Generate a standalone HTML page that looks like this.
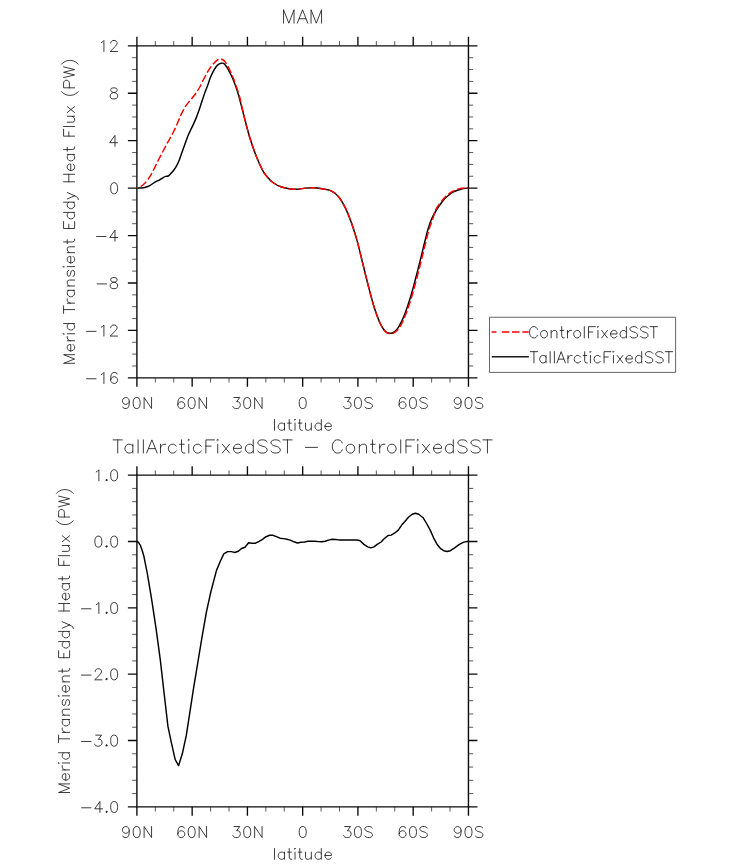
<!DOCTYPE html>
<html><head><meta charset="utf-8"><title>MAM</title>
<style>html,body{margin:0;padding:0;background:#fff;font-family:"Liberation Sans",sans-serif}svg{display:block}</style>
</head><body>
<svg width="733" height="866" viewBox="0 0 733 866">
<rect width="733" height="866" fill="#fff"/>
<path d="M136.9 45.83H468.45V377.84H136.9Z" stroke="#0a0a0a" stroke-width="1.4" fill="none"/>
<path d="M136.9 45.83V36.83M136.9 377.84V386.84M192.16 45.83V36.83M192.16 377.84V386.84M247.42 45.83V36.83M247.42 377.84V386.84M302.67 45.83V36.83M302.67 377.84V386.84M357.93 45.83V36.83M357.93 377.84V386.84M413.19 45.83V36.83M413.19 377.84V386.84M468.45 45.83V36.83M468.45 377.84V386.84M136.9 45.83H127.9M468.45 45.83H477.45M136.9 93.26H127.9M468.45 93.26H477.45M136.9 140.69H127.9M468.45 140.69H477.45M136.9 188.12H127.9M468.45 188.12H477.45M136.9 235.55H127.9M468.45 235.55H477.45M136.9 282.98H127.9M468.45 282.98H477.45M136.9 330.41H127.9M468.45 330.41H477.45M136.9 377.84H127.9M468.45 377.84H477.45" stroke="#0a0a0a" stroke-width="1.35" fill="none"/>
<path d="M155.32 45.83V41.13M155.32 377.84V382.54M173.74 45.83V41.13M173.74 377.84V382.54M210.58 45.83V41.13M210.58 377.84V382.54M229 45.83V41.13M229 377.84V382.54M265.84 45.83V41.13M265.84 377.84V382.54M284.26 45.83V41.13M284.26 377.84V382.54M321.09 45.83V41.13M321.09 377.84V382.54M339.51 45.83V41.13M339.51 377.84V382.54M376.35 45.83V41.13M376.35 377.84V382.54M394.77 45.83V41.13M394.77 377.84V382.54M431.61 45.83V41.13M431.61 377.84V382.54M450.03 45.83V41.13M450.03 377.84V382.54M136.9 57.69H132.2M468.45 57.69H473.15M136.9 69.55H132.2M468.45 69.55H473.15M136.9 81.4H132.2M468.45 81.4H473.15M136.9 105.12H132.2M468.45 105.12H473.15M136.9 116.97H132.2M468.45 116.97H473.15M136.9 128.83H132.2M468.45 128.83H473.15M136.9 152.55H132.2M468.45 152.55H473.15M136.9 164.41H132.2M468.45 164.41H473.15M136.9 176.26H132.2M468.45 176.26H473.15M136.9 199.98H132.2M468.45 199.98H473.15M136.9 211.83H132.2M468.45 211.83H473.15M136.9 223.69H132.2M468.45 223.69H473.15M136.9 247.41H132.2M468.45 247.41H473.15M136.9 259.26H132.2M468.45 259.26H473.15M136.9 271.12H132.2M468.45 271.12H473.15M136.9 294.84H132.2M468.45 294.84H473.15M136.9 306.69H132.2M468.45 306.69H473.15M136.9 318.55H132.2M468.45 318.55H473.15M136.9 342.27H132.2M468.45 342.27H473.15M136.9 354.12H132.2M468.45 354.12H473.15M136.9 365.98H132.2M468.45 365.98H473.15" stroke="#222" stroke-width="0.75" fill="none"/>
<path d="M136.9 475.15H468.45V806.85H136.9Z" stroke="#0a0a0a" stroke-width="1.4" fill="none"/>
<path d="M136.9 475.15V466.15M136.9 806.85V815.85M192.16 475.15V466.15M192.16 806.85V815.85M247.42 475.15V466.15M247.42 806.85V815.85M302.67 475.15V466.15M302.67 806.85V815.85M357.93 475.15V466.15M357.93 806.85V815.85M413.19 475.15V466.15M413.19 806.85V815.85M468.45 475.15V466.15M468.45 806.85V815.85M136.9 475.15H127.9M468.45 475.15H477.45M136.9 541.49H127.9M468.45 541.49H477.45M136.9 607.83H127.9M468.45 607.83H477.45M136.9 674.17H127.9M468.45 674.17H477.45M136.9 740.51H127.9M468.45 740.51H477.45M136.9 806.85H127.9M468.45 806.85H477.45" stroke="#0a0a0a" stroke-width="1.35" fill="none"/>
<path d="M155.32 475.15V470.45M155.32 806.85V811.55M173.74 475.15V470.45M173.74 806.85V811.55M210.58 475.15V470.45M210.58 806.85V811.55M229 475.15V470.45M229 806.85V811.55M265.84 475.15V470.45M265.84 806.85V811.55M284.26 475.15V470.45M284.26 806.85V811.55M321.09 475.15V470.45M321.09 806.85V811.55M339.51 475.15V470.45M339.51 806.85V811.55M376.35 475.15V470.45M376.35 806.85V811.55M394.77 475.15V470.45M394.77 806.85V811.55M431.61 475.15V470.45M431.61 806.85V811.55M450.03 475.15V470.45M450.03 806.85V811.55M136.9 488.42H132.2M468.45 488.42H473.15M136.9 501.69H132.2M468.45 501.69H473.15M136.9 514.95H132.2M468.45 514.95H473.15M136.9 528.22H132.2M468.45 528.22H473.15M136.9 554.76H132.2M468.45 554.76H473.15M136.9 568.03H132.2M468.45 568.03H473.15M136.9 581.29H132.2M468.45 581.29H473.15M136.9 594.56H132.2M468.45 594.56H473.15M136.9 621.1H132.2M468.45 621.1H473.15M136.9 634.37H132.2M468.45 634.37H473.15M136.9 647.63H132.2M468.45 647.63H473.15M136.9 660.9H132.2M468.45 660.9H473.15M136.9 687.44H132.2M468.45 687.44H473.15M136.9 700.71H132.2M468.45 700.71H473.15M136.9 713.97H132.2M468.45 713.97H473.15M136.9 727.24H132.2M468.45 727.24H473.15M136.9 753.78H132.2M468.45 753.78H473.15M136.9 767.05H132.2M468.45 767.05H473.15M136.9 780.31H132.2M468.45 780.31H473.15M136.9 793.58H132.2M468.45 793.58H473.15" stroke="#222" stroke-width="0.75" fill="none"/>
<path d="M136.9 187.95C137.67 187.95 140.05 188.06 141.5 187.95C142.95 187.84 144.23 187.68 145.6 187.3C146.97 186.93 148.2 186.52 149.7 185.7C151.2 184.88 152.95 183.38 154.6 182.4C156.25 181.42 158.1 180.65 159.6 179.8C161.1 178.95 162.58 177.87 163.6 177.3C164.62 176.73 164.93 176.62 165.7 176.4C166.47 176.18 167.45 176.37 168.2 176C168.95 175.63 169.32 175.12 170.2 174.2C171.08 173.28 172.42 171.93 173.5 170.5C174.58 169.07 175.75 167.3 176.7 165.6C177.65 163.9 178.45 162.13 179.2 160.3C179.95 158.47 180.45 156.72 181.2 154.6C181.95 152.48 182.87 149.93 183.7 147.6C184.53 145.27 185.38 142.82 186.2 140.6C187.02 138.38 187.65 136.5 188.6 134.3C189.55 132.1 190.67 130.05 191.9 127.4C193.13 124.75 194.77 121.4 196 118.4C197.23 115.4 198.25 112.43 199.3 109.4C200.35 106.37 201.33 103.1 202.3 100.2C203.27 97.3 204.15 94.62 205.1 92C206.05 89.38 207.13 86.87 208 84.5C208.87 82.13 209.4 80.03 210.3 77.8C211.2 75.57 212.43 72.95 213.4 71.1C214.37 69.25 215.25 67.83 216.1 66.7C216.95 65.57 217.63 64.88 218.5 64.3C219.37 63.72 220.45 63.35 221.3 63.2C222.15 63.05 222.82 62.93 223.6 63.4C224.38 63.87 225.2 64.93 226 66C226.8 67.07 227.53 68.27 228.4 69.8C229.27 71.33 230.28 73.27 231.2 75.2C232.12 77.13 233 79.12 233.9 81.4C234.8 83.68 235.7 86.18 236.6 88.9C237.5 91.62 237.92 92.58 239.3 97.7C240.68 102.82 243.23 113.22 244.9 119.6C246.57 125.98 247.75 130.8 249.3 136C250.85 141.2 252.57 146.3 254.2 150.8C255.83 155.3 257.45 159.32 259.1 163C260.75 166.68 262.37 170.17 264.1 172.9C265.83 175.63 267.78 177.63 269.5 179.4C271.22 181.17 272.5 182.27 274.4 183.5C276.3 184.73 278.45 185.93 280.9 186.8C283.35 187.67 286.37 188.3 289.1 188.7C291.83 189.1 294.57 189.3 297.3 189.2C300.03 189.1 302.77 188.33 305.5 188.1C308.23 187.87 310.97 187.7 313.7 187.8C316.43 187.9 319.18 188.27 321.9 188.7C324.62 189.13 327.82 189.63 330 190.4C332.18 191.17 333.35 191.95 335 193.3C336.65 194.65 338.12 195.95 339.9 198.5C341.68 201.05 343.77 204.52 345.7 208.6C347.63 212.68 349.58 217.58 351.5 223C353.42 228.42 355.3 234.27 357.2 241.1C359.1 247.93 361 256.35 362.9 264C364.8 271.65 366.68 279.67 368.6 287C370.52 294.33 372.48 301.97 374.4 308C376.32 314.03 378.35 319.38 380.1 323.2C381.85 327.02 383.3 329.23 384.9 330.9C386.5 332.57 388.12 333.05 389.7 333.2C391.28 333.35 392.82 332.98 394.4 331.8C395.98 330.62 397.45 329.12 399.2 326.1C400.95 323.08 402.98 318.63 404.9 313.7C406.82 308.77 408.78 302.87 410.7 296.5C412.62 290.13 414.65 282.18 416.4 275.5C418.15 268.82 419.73 262.32 421.2 256.4C422.67 250.48 423.98 244.82 425.2 240C426.42 235.18 427.4 231.08 428.5 227.5C429.6 223.92 430.43 221.5 431.8 218.5C433.17 215.5 434.8 212.5 436.7 209.5C438.6 206.5 441.37 202.75 443.2 200.5C445.03 198.25 445.98 197.43 447.7 196C449.42 194.57 451.32 193.03 453.5 191.9C455.68 190.77 458.31 189.87 460.8 189.2C463.29 188.53 467.18 188.12 468.45 187.9" stroke="#000" stroke-width="1.45" fill="none" stroke-linejoin="round"/>
<path d="M136.9 187.95C137.53 187.71 139.52 187.16 140.7 186.5C141.88 185.84 142.9 185.03 144 184C145.1 182.97 146.2 181.73 147.3 180.3C148.4 178.87 149.52 177.23 150.6 175.4C151.68 173.57 152.72 171.42 153.8 169.3C154.88 167.18 156 164.88 157.1 162.7C158.2 160.52 159.32 158.3 160.4 156.2C161.48 154.1 162.52 152.15 163.6 150.1C164.68 148.05 165.8 145.95 166.9 143.9C168 141.85 169.23 139.53 170.2 137.8C171.17 136.07 171.67 135.52 172.7 133.5C173.73 131.48 175.1 128.63 176.4 125.7C177.7 122.77 179.28 118.62 180.5 115.9C181.72 113.18 182.75 111.17 183.7 109.4C184.65 107.63 185.23 106.67 186.2 105.3C187.17 103.93 188.27 102.7 189.5 101.2C190.73 99.7 192.38 97.87 193.6 96.3C194.82 94.73 195.72 93.43 196.8 91.8C197.88 90.17 198.97 88.57 200.1 86.5C201.23 84.43 202.35 81.85 203.6 79.4C204.85 76.95 206.37 73.92 207.6 71.8C208.83 69.68 209.92 68.17 211 66.7C212.08 65.23 213.02 64.13 214.1 63C215.18 61.87 216.53 60.57 217.5 59.9C218.47 59.23 219.1 59.07 219.9 59C220.7 58.93 221.5 59.12 222.3 59.5C223.1 59.88 223.97 60.5 224.7 61.3C225.43 62.1 226.02 63.17 226.7 64.3C227.38 65.43 228.05 66.62 228.8 68.1C229.55 69.58 230.42 71.45 231.2 73.2C231.98 74.95 232.72 76.55 233.5 78.6C234.28 80.65 235.03 82.98 235.9 85.5C236.77 88.02 237.97 91.37 238.7 93.7C239.43 96.03 239.27 95.18 240.3 99.5C241.33 103.82 243.4 113.52 244.9 119.6C246.4 125.68 247.75 130.8 249.3 136C250.85 141.2 252.57 146.3 254.2 150.8C255.83 155.3 257.45 159.32 259.1 163C260.75 166.68 262.37 170.17 264.1 172.9C265.83 175.63 267.78 177.63 269.5 179.4C271.22 181.17 272.5 182.27 274.4 183.5C276.3 184.73 278.45 185.93 280.9 186.8C283.35 187.67 286.37 188.3 289.1 188.7C291.83 189.1 294.57 189.3 297.3 189.2C300.03 189.1 302.77 188.33 305.5 188.1C308.23 187.87 310.97 187.7 313.7 187.8C316.43 187.9 319.18 188.27 321.9 188.7C324.62 189.13 327.82 189.63 330 190.4C332.18 191.17 333.35 191.95 335 193.3C336.65 194.65 338.12 195.95 339.9 198.5C341.68 201.05 343.77 204.52 345.7 208.6C347.63 212.68 349.58 217.58 351.5 223C353.42 228.42 355.3 234.27 357.2 241.1C359.1 247.93 361 256.35 362.9 264C364.8 271.65 366.68 279.67 368.6 287C370.52 294.33 372.48 301.97 374.4 308C376.32 314.03 378.3 319.28 380.1 323.2C381.9 327.12 383.55 329.73 385.2 331.5C386.85 333.27 388.42 333.65 390 333.8C391.58 333.95 393 333.62 394.7 332.4C396.4 331.18 398.33 329.55 400.2 326.5C402.07 323.45 403.98 319.03 405.9 314.1C407.82 309.17 409.78 303.27 411.7 296.9C413.62 290.53 415.65 282.58 417.4 275.9C419.15 269.22 420.73 262.72 422.2 256.8C423.67 250.88 424.98 245.22 426.2 240.4C427.42 235.58 428.4 231.48 429.5 227.9C430.6 224.32 431.68 222.08 432.8 218.9C433.92 215.72 434.55 211.98 436.2 208.8C437.85 205.62 440.87 202.05 442.7 199.8C444.53 197.55 445.48 196.73 447.2 195.3C448.92 193.87 450.82 192.33 453 191.2C455.18 190.07 457.73 189.05 460.3 188.5C462.88 187.95 467.09 188 468.45 187.9" stroke="#f00" stroke-width="1.45" fill="none" stroke-dasharray="7.5 2.7" stroke-dashoffset="6.2" stroke-linejoin="round"/>
<path d="M136.9 541.5L138.3 542.2L140.4 545.4L142.3 550.8L144 556.8L147.3 573.3L151.6 599.2L156 628.1L160.3 659.8L164.6 697.5L167.9 726.2L171.3 742.3L175.2 759.6L178.6 765.6L182.3 753.8L186.3 735.4L190.4 708.8L193.5 688.7L197.8 662.7L202.1 636.7L206.4 612.2L210.8 592L216.5 570.4L220.2 561.5L223.8 553.9L227.6 551.6L231.4 551.6L234.8 552.5L238.3 551.2L241.5 548.5L245 547.2L248.6 542.8L252 543.2L255.5 543.2L259.1 541.4L262.5 539.3L266 536.7L269.6 535.3L273 535.3L276.5 536.7L279.9 538.2L283.5 538.6L287 539.2L290.2 540.1L294 541.8L297.5 543L300.9 542.2L304.5 542L308 541.3L311.2 541.1L315 541.3L318.5 541.6L321.7 541.8L325.2 541.3L328.4 540.1L332.2 539.2L335.7 539.5L339.1 539.9L343.7 539.9L347.6 539.9L353.4 540L357.2 539.9L360.1 540.8L363.9 544.4L367.7 546.9L370.9 547.9L374 546.9L377.2 544.4L381.1 542L384.9 538.1L388.1 535.5L391.2 535.1L394.4 533.2L398.3 530.1L401.5 525.3L404.9 521.5L408.4 517.3L412.2 514.3L415.4 513.3L418.7 514.3L423.1 517.7L426.9 524L430.2 530.1L433.6 537.8L437 544.2L440.3 548.3L443.7 550.7L447 551.5L450.4 550.7L454.6 547.9L459.4 544.4L463.8 542.1L468.5 541.3" stroke="#000" stroke-width="1.45" fill="none" stroke-linejoin="round"/>
<path stroke="#1a1a1a" stroke-width="0.85" fill="none" stroke-linecap="round" stroke-linejoin="round" d="M283.56 23.2L283.56 9.76L288.8 23.2L294.04 9.76L294.04 23.2M297.31 23.2L302.55 9.76L307.79 23.2M299.27 18.72L305.82 18.72M311.06 23.2L311.06 9.76L316.31 23.2L321.55 9.76L321.55 23.2"/>
<path stroke="#1a1a1a" stroke-width="0.85" fill="none" stroke-linecap="round" stroke-linejoin="round" d="M113.1 439.88L122.31 439.88M117.71 439.88L117.71 453M132.84 446.12L131.52 444.88L130.21 444.25L128.23 444.25L126.92 444.88L125.6 446.12L124.94 448L124.94 449.25L125.6 451.12L126.92 452.38L128.23 453L130.21 453L131.52 452.38L132.84 451.12M132.84 444.25L132.84 453M138.1 439.88L138.1 453M143.37 439.88L143.37 453M146.66 453L151.92 439.88L157.19 453M148.63 448.62L155.21 448.62M160.48 444.25L160.48 453M160.48 448L161.13 446.12L162.45 444.88L163.77 444.25L165.74 444.25M176.27 446.12L174.95 444.88L173.64 444.25L171.66 444.25L170.35 444.88L169.03 446.12L168.37 448L168.37 449.25L169.03 451.12L170.35 452.38L171.66 453L173.64 453L174.95 452.38L176.27 451.12M179.56 444.25L184.16 444.25M181.53 439.88L181.53 450.5L182.19 452.38L183.51 453L184.82 453M188.77 444.25L188.77 453M188.11 439.88L188.77 439.25L189.43 439.88L188.77 440.5ZM201.27 446.12L199.96 444.88L198.64 444.25L196.67 444.25L195.35 444.88L194.03 446.12L193.38 448L193.38 449.25L194.03 451.12L195.35 452.38L196.67 453L198.64 453L199.96 452.38L201.27 451.12M205.88 453L205.88 439.88L214.43 439.88M205.88 446.12L211.14 446.12M217.72 444.25L217.72 453M217.06 439.88L217.72 439.25L218.38 439.88L217.72 440.5ZM222.33 444.25L229.57 453M222.33 453L229.57 444.25M233.51 448L233.51 449.25L234.17 451.12L235.49 452.38L236.8 453L238.78 453L240.09 452.38L241.41 451.12M233.51 448L234.17 446.12L235.49 444.88L236.8 444.25L238.78 444.25L240.09 444.88L240.75 445.5L241.41 446.75L241.41 448ZM253.25 446.12L251.94 444.88L250.62 444.25L248.65 444.25L247.33 444.88L246.02 446.12L245.36 448L245.36 449.25L246.02 451.12L247.33 452.38L248.65 453L250.62 453L251.94 452.38L253.25 451.12M253.25 439.88L253.25 453M257.86 451.12L259.18 452.38L261.15 453L263.78 453L265.76 452.38L267.07 451.12L267.07 449.25L266.41 448L265.76 447.38L264.44 446.75L260.49 445.5L259.18 444.88L258.52 444.25L257.86 443L257.86 441.75L259.18 440.5L261.15 439.88L263.78 439.88L265.76 440.5L267.07 441.75M271.02 451.12L272.34 452.38L274.31 453L276.94 453L278.92 452.38L280.23 451.12L280.23 449.25L279.57 448L278.92 447.38L277.6 446.75L273.65 445.5L272.34 444.88L271.68 444.25L271.02 443L271.02 441.75L272.34 440.5L274.31 439.88L276.94 439.88L278.92 440.5L280.23 441.75M282.86 439.88L292.08 439.88M287.47 439.88L287.47 453"/>
<path stroke="#1a1a1a" stroke-width="0.85" fill="none" stroke-linecap="round" stroke-linejoin="round" d="M305.4 447.38L317.5 447.38"/>
<path stroke="#1a1a1a" stroke-width="0.85" fill="none" stroke-linecap="round" stroke-linejoin="round" d="M342.25 443L341.6 441.75L340.28 440.5L338.97 439.88L336.34 439.88L335.03 440.5L333.71 441.75L333.06 443L332.4 444.88L332.4 448L333.06 449.88L333.71 451.12L335.03 452.38L336.34 453L338.97 453L340.28 452.38L341.6 451.12L342.25 449.88M346.2 448L346.2 449.25L346.85 451.12L348.17 452.38L349.48 453L351.45 453L352.77 452.38L354.08 451.12L354.74 449.25L354.74 448L354.08 446.12L352.77 444.88L351.45 444.25L349.48 444.25L348.17 444.88L346.85 446.12ZM359.34 444.25L359.34 453M359.34 446.75L361.31 444.88L362.62 444.25L364.59 444.25L365.91 444.88L366.56 446.75L366.56 453M370.51 444.25L375.1 444.25M372.48 439.88L372.48 450.5L373.13 452.38L374.45 453L375.76 453M379.7 444.25L379.7 453M379.7 448L380.36 446.12L381.67 444.88L382.99 444.25L384.96 444.25M387.59 448L387.59 449.25L388.25 451.12L389.56 452.38L390.87 453L392.84 453L394.16 452.38L395.47 451.12L396.13 449.25L396.13 448L395.47 446.12L394.16 444.88L392.84 444.25L390.87 444.25L389.56 444.88L388.25 446.12ZM400.73 439.88L400.73 453M405.98 453L405.98 439.88L414.52 439.88M405.98 446.12L411.24 446.12M417.81 444.25L417.81 453M417.15 439.88L417.81 439.25L418.47 439.88L417.81 440.5ZM422.41 444.25L429.64 453M422.41 453L429.64 444.25M433.58 448L433.58 449.25L434.24 451.12L435.55 452.38L436.86 453L438.83 453L440.15 452.38L441.46 451.12M433.58 448L434.24 446.12L435.55 444.88L436.86 444.25L438.83 444.25L440.15 444.88L440.8 445.5L441.46 446.75L441.46 448ZM453.29 446.12L451.97 444.88L450.66 444.25L448.69 444.25L447.38 444.88L446.06 446.12L445.4 448L445.4 449.25L446.06 451.12L447.38 452.38L448.69 453L450.66 453L451.97 452.38L453.29 451.12M453.29 439.88L453.29 453M457.89 451.12L459.2 452.38L461.17 453L463.8 453L465.77 452.38L467.08 451.12L467.08 449.25L466.43 448L465.77 447.38L464.46 446.75L460.51 445.5L459.2 444.88L458.54 444.25L457.89 443L457.89 441.75L459.2 440.5L461.17 439.88L463.8 439.88L465.77 440.5L467.08 441.75M471.03 451.12L472.34 452.38L474.31 453L476.94 453L478.91 452.38L480.22 451.12L480.22 449.25L479.57 448L478.91 447.38L477.6 446.75L473.65 445.5L472.34 444.88L471.68 444.25L471.03 443L471.03 441.75L472.34 440.5L474.31 439.88L476.94 439.88L478.91 440.5L480.22 441.75M482.85 439.88L492.05 439.88M487.45 439.88L487.45 453"/>
<path stroke="#1a1a1a" stroke-width="0.85" fill="none" stroke-linecap="round" stroke-linejoin="round" d="M101.29 42.57L102.35 42.04L103.92 40.47L103.92 51.49M117.6 51.49L110.24 51.49L115.5 46.24L116.55 44.67L117.07 43.62L117.07 42.57L116.55 41.52L116.02 40.99L114.97 40.47L112.87 40.47L111.81 40.99L111.29 41.52L110.76 42.57L110.76 43.09"/>
<path stroke="#1a1a1a" stroke-width="0.85" fill="none" stroke-linecap="round" stroke-linejoin="round" d="M110.24 95.25L110.24 96.82L110.76 97.87L111.29 98.4L112.87 98.92L114.97 98.92L116.55 98.4L117.07 97.87L117.6 96.82L117.6 95.25L117.07 94.2L116.02 93.15L114.44 92.62L112.34 92.1L111.29 91.57L110.76 90.52L110.76 89.47L111.29 88.42L112.87 87.9L114.97 87.9L116.55 88.42L117.07 89.47L117.07 90.52L116.55 91.57L115.5 92.1L113.39 92.62L111.81 93.15L110.76 94.2Z"/>
<path stroke="#1a1a1a" stroke-width="0.85" fill="none" stroke-linecap="round" stroke-linejoin="round" d="M117.6 142.68L109.71 142.68L114.97 135.33L114.97 146.35"/>
<path stroke="#1a1a1a" stroke-width="0.85" fill="none" stroke-linecap="round" stroke-linejoin="round" d="M110.68 187.48L110.68 189.06L111.17 191.68L112.16 193.26L113.64 193.78L114.63 193.78L116.12 193.26L117.11 191.68L117.6 189.06L117.6 187.48L117.11 184.86L116.12 183.28L114.63 182.76L113.64 182.76L112.16 183.28L111.17 184.86Z"/>
<path stroke="#1a1a1a" stroke-width="0.85" fill="none" stroke-linecap="round" stroke-linejoin="round" d="M96.56 236.49L106.03 236.49M117.6 237.54L109.71 237.54L114.97 230.19L114.97 241.21"/>
<path stroke="#1a1a1a" stroke-width="0.85" fill="none" stroke-linecap="round" stroke-linejoin="round" d="M97.09 283.92L106.55 283.92M110.24 284.97L110.24 286.54L110.76 287.59L111.29 288.12L112.87 288.64L114.97 288.64L116.55 288.12L117.07 287.59L117.6 286.54L117.6 284.97L117.07 283.92L116.02 282.87L114.44 282.34L112.34 281.82L111.29 281.29L110.76 280.24L110.76 279.19L111.29 278.14L112.87 277.62L114.97 277.62L116.55 278.14L117.07 279.19L117.07 280.24L116.55 281.29L115.5 281.82L113.39 282.34L111.81 282.87L110.76 283.92Z"/>
<path stroke="#1a1a1a" stroke-width="0.85" fill="none" stroke-linecap="round" stroke-linejoin="round" d="M86.57 331.35L96.03 331.35M101.29 327.15L102.35 326.62L103.92 325.05L103.92 336.07M117.6 336.07L110.24 336.07L115.5 330.82L116.55 329.25L117.07 328.2L117.07 327.15L116.55 326.1L116.02 325.57L114.97 325.05L112.87 325.05L111.81 325.57L111.29 326.1L110.76 327.15L110.76 327.67"/>
<path stroke="#1a1a1a" stroke-width="0.85" fill="none" stroke-linecap="round" stroke-linejoin="round" d="M86.57 378.78L96.03 378.78M101.29 374.58L102.35 374.05L103.92 372.48L103.92 383.5M110.76 379.83L110.76 377.2L111.29 374.58L112.34 373L113.92 372.48L114.97 372.48L116.55 373L117.07 374.05M110.76 379.83L111.29 378.25L112.34 377.2L113.92 376.68L114.44 376.68L116.02 377.2L117.07 378.25L117.6 379.83L117.6 380.35L117.07 381.93L116.02 382.98L114.44 383.5L113.92 383.5L112.34 382.98L111.29 381.93Z"/>
<path stroke="#1a1a1a" stroke-width="0.85" fill="none" stroke-linecap="round" stroke-linejoin="round" d="M122.88 406.96L123.41 408.01L125 408.54L126.06 408.54L127.66 408.01L128.72 406.44L129.25 403.81L129.25 401.19M129.25 401.19L128.72 399.09L127.66 398.04L126.06 397.51L125.53 397.51L123.94 398.04L122.88 399.09L122.35 400.66L122.35 401.19L122.88 402.76L123.94 403.81L125.53 404.34L126.06 404.34L127.66 403.81L128.72 402.76ZM133.19 402.24L133.19 403.81L133.69 406.44L134.69 408.01L136.19 408.54L137.18 408.54L138.68 408.01L139.68 406.44L140.18 403.81L140.18 402.24L139.68 399.61L138.68 398.04L137.18 397.51L136.19 397.51L134.69 398.04L133.69 399.61ZM144.12 408.54L144.12 397.51L151.55 408.54L151.55 397.51"/>
<path stroke="#1a1a1a" stroke-width="0.85" fill="none" stroke-linecap="round" stroke-linejoin="round" d="M177.87 404.86L177.87 402.24L178.4 399.61L179.46 398.04L181.06 397.51L182.12 397.51L183.71 398.04L184.24 399.09M177.87 404.86L178.4 403.29L179.46 402.24L181.06 401.71L181.59 401.71L183.18 402.24L184.24 403.29L184.77 404.86L184.77 405.39L184.24 406.96L183.18 408.01L181.59 408.54L181.06 408.54L179.46 408.01L178.4 406.96ZM188.18 402.24L188.18 403.81L188.68 406.44L189.68 408.01L191.18 408.54L192.18 408.54L193.67 408.01L194.67 406.44L195.17 403.81L195.17 402.24L194.67 399.61L193.67 398.04L192.18 397.51L191.18 397.51L189.68 398.04L188.68 399.61ZM199.11 408.54L199.11 397.51L206.55 408.54L206.55 397.51"/>
<path stroke="#1a1a1a" stroke-width="0.85" fill="none" stroke-linecap="round" stroke-linejoin="round" d="M232.86 406.44L233.4 407.49L233.93 408.01L235.52 408.54L237.11 408.54L238.71 408.01L239.77 406.96L240.3 405.39L240.3 404.34L239.77 402.76L239.24 402.24L238.17 401.71L236.58 401.71L239.77 397.51L233.93 397.51M243.71 402.24L243.71 403.81L244.21 406.44L245.2 408.01L246.7 408.54L247.7 408.54L249.2 408.01L250.2 406.44L250.7 403.81L250.7 402.24L250.2 399.61L249.2 398.04L247.7 397.51L246.7 397.51L245.2 398.04L244.21 399.61ZM254.64 408.54L254.64 397.51L262.07 408.54L262.07 397.51"/>
<path stroke="#1a1a1a" stroke-width="0.85" fill="none" stroke-linecap="round" stroke-linejoin="round" d="M299.23 402.24L299.23 403.81L299.73 406.44L300.73 408.01L302.23 408.54L303.22 408.54L304.72 408.01L305.72 406.44L306.22 403.81L306.22 402.24L305.72 399.61L304.72 398.04L303.22 397.51L302.23 397.51L300.73 398.04L299.73 399.61Z"/>
<path stroke="#1a1a1a" stroke-width="0.85" fill="none" stroke-linecap="round" stroke-linejoin="round" d="M343.65 406.44L344.18 407.49L344.71 408.01L346.3 408.54L347.89 408.54L349.49 408.01L350.55 406.96L351.08 405.39L351.08 404.34L350.55 402.76L350.02 402.24L348.96 401.71L347.36 401.71L350.55 397.51L344.71 397.51M354.49 402.24L354.49 403.81L354.99 406.44L355.99 408.01L357.48 408.54L358.48 408.54L359.98 408.01L360.98 406.44L361.48 403.81L361.48 402.24L360.98 399.61L359.98 398.04L358.48 397.51L357.48 397.51L355.99 398.04L354.99 399.61ZM364.89 406.96L365.95 408.01L367.54 408.54L369.67 408.54L371.26 408.01L372.32 406.96L372.32 405.39L371.79 404.34L371.26 403.81L370.2 403.29L367.01 402.24L365.95 401.71L365.42 401.19L364.89 400.14L364.89 399.09L365.95 398.04L367.54 397.51L369.67 397.51L371.26 398.04L372.32 399.09"/>
<path stroke="#1a1a1a" stroke-width="0.85" fill="none" stroke-linecap="round" stroke-linejoin="round" d="M399.17 404.86L399.17 402.24L399.7 399.61L400.76 398.04L402.36 397.51L403.42 397.51L405.01 398.04L405.54 399.09M399.17 404.86L399.7 403.29L400.76 402.24L402.36 401.71L402.89 401.71L404.48 402.24L405.54 403.29L406.07 404.86L406.07 405.39L405.54 406.96L404.48 408.01L402.89 408.54L402.36 408.54L400.76 408.01L399.7 406.96ZM409.48 402.24L409.48 403.81L409.98 406.44L410.98 408.01L412.48 408.54L413.48 408.54L414.97 408.01L415.97 406.44L416.47 403.81L416.47 402.24L415.97 399.61L414.97 398.04L413.48 397.51L412.48 397.51L410.98 398.04L409.98 399.61ZM419.88 406.96L420.94 408.01L422.53 408.54L424.66 408.54L426.25 408.01L427.31 406.96L427.31 405.39L426.78 404.34L426.25 403.81L425.19 403.29L422 402.24L420.94 401.71L420.41 401.19L419.88 400.14L419.88 399.09L420.94 398.04L422.53 397.51L424.66 397.51L426.25 398.04L427.31 399.09"/>
<path stroke="#1a1a1a" stroke-width="0.85" fill="none" stroke-linecap="round" stroke-linejoin="round" d="M454.69 406.96L455.22 408.01L456.82 408.54L457.88 408.54L459.47 408.01L460.53 406.44L461.07 403.81L461.07 401.19M461.07 401.19L460.53 399.09L459.47 398.04L457.88 397.51L457.35 397.51L455.76 398.04L454.69 399.09L454.16 400.66L454.16 401.19L454.69 402.76L455.76 403.81L457.35 404.34L457.88 404.34L459.47 403.81L460.53 402.76ZM465.01 402.24L465.01 403.81L465.51 406.44L466.5 408.01L468 408.54L469 408.54L470.5 408.01L471.49 406.44L471.99 403.81L471.99 402.24L471.49 399.61L470.5 398.04L469 397.51L468 397.51L466.5 398.04L465.51 399.61ZM475.4 406.96L476.46 408.01L478.06 408.54L480.18 408.54L481.77 408.01L482.84 406.96L482.84 405.39L482.31 404.34L481.77 403.81L480.71 403.29L477.53 402.24L476.46 401.71L475.93 401.19L475.4 400.14L475.4 399.09L476.46 398.04L478.06 397.51L480.18 397.51L481.77 398.04L482.84 399.09"/>
<path stroke="#1a1a1a" stroke-width="0.85" fill="none" stroke-linecap="round" stroke-linejoin="round" d="M274.5 419.53L274.5 430.24M284.49 424.63L283.44 423.61L282.39 423.1L280.81 423.1L279.76 423.61L278.71 424.63L278.18 426.16L278.18 427.18L278.71 428.71L279.76 429.73L280.81 430.24L282.39 430.24L283.44 429.73L284.49 428.71M284.49 423.1L284.49 430.24M287.65 423.1L291.33 423.1M289.23 419.53L289.23 428.2L289.75 429.73L290.81 430.24L291.86 430.24M295.01 423.1L295.01 430.24M294.49 419.53L295.01 419.02L295.54 419.53L295.01 420.04ZM298.17 423.1L301.85 423.1M299.75 419.53L299.75 428.2L300.27 429.73L301.33 430.24L302.38 430.24M305.53 423.1L305.53 428.2L306.06 429.73L307.11 430.24L308.69 430.24L309.74 429.73L311.32 428.2M311.32 423.1L311.32 430.24M321.31 424.63L320.26 423.61L319.21 423.1L317.63 423.1L316.58 423.61L315.53 424.63L315 426.16L315 427.18L315.53 428.71L316.58 429.73L317.63 430.24L319.21 430.24L320.26 429.73L321.31 428.71M321.31 419.53L321.31 430.24M325 426.16L325 427.18L325.52 428.71L326.57 429.73L327.63 430.24L329.2 430.24L330.26 429.73L331.31 428.71M325 426.16L325.52 424.63L326.57 423.61L327.63 423.1L329.2 423.1L330.26 423.61L330.78 424.12L331.31 425.14L331.31 426.16Z"/>
<path stroke="#1a1a1a" stroke-width="0.85" fill="none" stroke-linecap="round" stroke-linejoin="round" d="M96.25 471.89L97.31 471.36L98.88 469.79L98.88 480.81M106.14 480.02L106.67 479.5L107.2 480.02L106.67 480.55ZM106.14 480.02L107.2 480.02M106.67 479.5L106.67 480.55M110.68 474.51L110.68 476.09L111.17 478.71L112.16 480.29L113.64 480.81L114.63 480.81L116.12 480.29L117.11 478.71L117.6 476.09L117.6 474.51L117.11 471.89L116.12 470.31L114.63 469.79L113.64 469.79L112.16 470.31L111.17 471.89Z"/>
<path stroke="#1a1a1a" stroke-width="0.85" fill="none" stroke-linecap="round" stroke-linejoin="round" d="M94.9 540.85L94.9 542.43L95.39 545.05L96.38 546.63L97.86 547.15L98.85 547.15L100.34 546.63L101.33 545.05L101.82 542.43L101.82 540.85L101.33 538.23L100.34 536.65L98.85 536.13L97.86 536.13L96.38 536.65L95.39 538.23ZM106.14 546.37L106.67 545.84L107.2 546.37L106.67 546.89ZM106.14 546.37L107.2 546.37M106.67 545.84L106.67 546.89M110.68 540.85L110.68 542.43L111.17 545.05L112.16 546.63L113.64 547.15L114.63 547.15L116.12 546.63L117.11 545.05L117.6 542.43L117.6 540.85L117.11 538.23L116.12 536.65L114.63 536.13L113.64 536.13L112.16 536.65L111.17 538.23Z"/>
<path stroke="#1a1a1a" stroke-width="0.85" fill="none" stroke-linecap="round" stroke-linejoin="round" d="M81.53 608.77L90.99 608.77M96.25 604.57L97.31 604.04L98.88 602.47L98.88 613.49M106.14 612.7L106.67 612.18L107.2 612.7L106.67 613.23ZM106.14 612.7L107.2 612.7M106.67 612.18L106.67 613.23M110.68 607.19L110.68 608.77L111.17 611.39L112.16 612.97L113.64 613.49L114.63 613.49L116.12 612.97L117.11 611.39L117.6 608.77L117.6 607.19L117.11 604.57L116.12 602.99L114.63 602.47L113.64 602.47L112.16 602.99L111.17 604.57Z"/>
<path stroke="#1a1a1a" stroke-width="0.85" fill="none" stroke-linecap="round" stroke-linejoin="round" d="M81.53 675.11L90.99 675.11M102.04 679.83L94.68 679.83L99.94 674.58L100.99 673.01L101.51 671.96L101.51 670.91L100.99 669.86L100.46 669.33L99.41 668.81L97.31 668.81L96.25 669.33L95.73 669.86L95.2 670.91L95.2 671.43M106.14 679.05L106.67 678.52L107.2 679.05L106.67 679.57ZM106.14 679.05L107.2 679.05M106.67 678.52L106.67 679.57M110.68 673.53L110.68 675.11L111.17 677.73L112.16 679.31L113.64 679.83L114.63 679.83L116.12 679.31L117.11 677.73L117.6 675.11L117.6 673.53L117.11 670.91L116.12 669.33L114.63 668.81L113.64 668.81L112.16 669.33L111.17 670.91Z"/>
<path stroke="#1a1a1a" stroke-width="0.85" fill="none" stroke-linecap="round" stroke-linejoin="round" d="M81.53 741.45L90.99 741.45M94.68 744.07L95.2 745.12L95.73 745.65L97.31 746.17L98.88 746.17L100.46 745.65L101.51 744.6L102.04 743.02L102.04 741.97L101.51 740.4L100.99 739.87L99.94 739.35L98.36 739.35L101.51 735.15L95.73 735.15M106.14 745.38L106.67 744.86L107.2 745.38L106.67 745.91ZM106.14 745.38L107.2 745.38M106.67 744.86L106.67 745.91M110.68 739.87L110.68 741.45L111.17 744.07L112.16 745.65L113.64 746.17L114.63 746.17L116.12 745.65L117.11 744.07L117.6 741.45L117.6 739.87L117.11 737.25L116.12 735.67L114.63 735.15L113.64 735.15L112.16 735.67L111.17 737.25Z"/>
<path stroke="#1a1a1a" stroke-width="0.85" fill="none" stroke-linecap="round" stroke-linejoin="round" d="M81.53 807.79L90.99 807.79M102.57 808.84L94.68 808.84L99.94 801.49L99.94 812.51M106.14 811.73L106.67 811.2L107.2 811.73L106.67 812.25ZM106.14 811.73L107.2 811.73M106.67 811.2L106.67 812.25M110.68 806.21L110.68 807.79L111.17 810.41L112.16 811.99L113.64 812.51L114.63 812.51L116.12 811.99L117.11 810.41L117.6 807.79L117.6 806.21L117.11 803.59L116.12 802.01L114.63 801.49L113.64 801.49L112.16 802.01L111.17 803.59Z"/>
<path stroke="#1a1a1a" stroke-width="0.85" fill="none" stroke-linecap="round" stroke-linejoin="round" d="M122.88 835.98L123.41 837.03L125 837.55L126.06 837.55L127.66 837.03L128.72 835.45L129.25 832.83L129.25 830.2M129.25 830.2L128.72 828.1L127.66 827.05L126.06 826.53L125.53 826.53L123.94 827.05L122.88 828.1L122.35 829.68L122.35 830.2L122.88 831.78L123.94 832.83L125.53 833.35L126.06 833.35L127.66 832.83L128.72 831.78ZM133.19 831.25L133.19 832.83L133.69 835.45L134.69 837.03L136.19 837.55L137.18 837.55L138.68 837.03L139.68 835.45L140.18 832.83L140.18 831.25L139.68 828.63L138.68 827.05L137.18 826.53L136.19 826.53L134.69 827.05L133.69 828.63ZM144.12 837.55L144.12 826.53L151.55 837.55L151.55 826.53"/>
<path stroke="#1a1a1a" stroke-width="0.85" fill="none" stroke-linecap="round" stroke-linejoin="round" d="M177.87 833.88L177.87 831.25L178.4 828.63L179.46 827.05L181.06 826.53L182.12 826.53L183.71 827.05L184.24 828.1M177.87 833.88L178.4 832.3L179.46 831.25L181.06 830.73L181.59 830.73L183.18 831.25L184.24 832.3L184.77 833.88L184.77 834.4L184.24 835.98L183.18 837.03L181.59 837.55L181.06 837.55L179.46 837.03L178.4 835.98ZM188.18 831.25L188.18 832.83L188.68 835.45L189.68 837.03L191.18 837.55L192.18 837.55L193.67 837.03L194.67 835.45L195.17 832.83L195.17 831.25L194.67 828.63L193.67 827.05L192.18 826.53L191.18 826.53L189.68 827.05L188.68 828.63ZM199.11 837.55L199.11 826.53L206.55 837.55L206.55 826.53"/>
<path stroke="#1a1a1a" stroke-width="0.85" fill="none" stroke-linecap="round" stroke-linejoin="round" d="M232.86 835.45L233.4 836.5L233.93 837.03L235.52 837.55L237.11 837.55L238.71 837.03L239.77 835.98L240.3 834.4L240.3 833.35L239.77 831.78L239.24 831.25L238.17 830.73L236.58 830.73L239.77 826.53L233.93 826.53M243.71 831.25L243.71 832.83L244.21 835.45L245.2 837.03L246.7 837.55L247.7 837.55L249.2 837.03L250.2 835.45L250.7 832.83L250.7 831.25L250.2 828.63L249.2 827.05L247.7 826.53L246.7 826.53L245.2 827.05L244.21 828.63ZM254.64 837.55L254.64 826.53L262.07 837.55L262.07 826.53"/>
<path stroke="#1a1a1a" stroke-width="0.85" fill="none" stroke-linecap="round" stroke-linejoin="round" d="M299.23 831.25L299.23 832.83L299.73 835.45L300.73 837.03L302.23 837.55L303.22 837.55L304.72 837.03L305.72 835.45L306.22 832.83L306.22 831.25L305.72 828.63L304.72 827.05L303.22 826.53L302.23 826.53L300.73 827.05L299.73 828.63Z"/>
<path stroke="#1a1a1a" stroke-width="0.85" fill="none" stroke-linecap="round" stroke-linejoin="round" d="M343.65 835.45L344.18 836.5L344.71 837.03L346.3 837.55L347.89 837.55L349.49 837.03L350.55 835.98L351.08 834.4L351.08 833.35L350.55 831.78L350.02 831.25L348.96 830.73L347.36 830.73L350.55 826.53L344.71 826.53M354.49 831.25L354.49 832.83L354.99 835.45L355.99 837.03L357.48 837.55L358.48 837.55L359.98 837.03L360.98 835.45L361.48 832.83L361.48 831.25L360.98 828.63L359.98 827.05L358.48 826.53L357.48 826.53L355.99 827.05L354.99 828.63ZM364.89 835.98L365.95 837.03L367.54 837.55L369.67 837.55L371.26 837.03L372.32 835.98L372.32 834.4L371.79 833.35L371.26 832.83L370.2 832.3L367.01 831.25L365.95 830.73L365.42 830.2L364.89 829.15L364.89 828.1L365.95 827.05L367.54 826.53L369.67 826.53L371.26 827.05L372.32 828.1"/>
<path stroke="#1a1a1a" stroke-width="0.85" fill="none" stroke-linecap="round" stroke-linejoin="round" d="M399.17 833.88L399.17 831.25L399.7 828.63L400.76 827.05L402.36 826.53L403.42 826.53L405.01 827.05L405.54 828.1M399.17 833.88L399.7 832.3L400.76 831.25L402.36 830.73L402.89 830.73L404.48 831.25L405.54 832.3L406.07 833.88L406.07 834.4L405.54 835.98L404.48 837.03L402.89 837.55L402.36 837.55L400.76 837.03L399.7 835.98ZM409.48 831.25L409.48 832.83L409.98 835.45L410.98 837.03L412.48 837.55L413.48 837.55L414.97 837.03L415.97 835.45L416.47 832.83L416.47 831.25L415.97 828.63L414.97 827.05L413.48 826.53L412.48 826.53L410.98 827.05L409.98 828.63ZM419.88 835.98L420.94 837.03L422.53 837.55L424.66 837.55L426.25 837.03L427.31 835.98L427.31 834.4L426.78 833.35L426.25 832.83L425.19 832.3L422 831.25L420.94 830.73L420.41 830.2L419.88 829.15L419.88 828.1L420.94 827.05L422.53 826.53L424.66 826.53L426.25 827.05L427.31 828.1"/>
<path stroke="#1a1a1a" stroke-width="0.85" fill="none" stroke-linecap="round" stroke-linejoin="round" d="M454.69 835.98L455.22 837.03L456.82 837.55L457.88 837.55L459.47 837.03L460.53 835.45L461.07 832.83L461.07 830.2M461.07 830.2L460.53 828.1L459.47 827.05L457.88 826.53L457.35 826.53L455.76 827.05L454.69 828.1L454.16 829.68L454.16 830.2L454.69 831.78L455.76 832.83L457.35 833.35L457.88 833.35L459.47 832.83L460.53 831.78ZM465.01 831.25L465.01 832.83L465.51 835.45L466.5 837.03L468 837.55L469 837.55L470.5 837.03L471.49 835.45L471.99 832.83L471.99 831.25L471.49 828.63L470.5 827.05L469 826.53L468 826.53L466.5 827.05L465.51 828.63ZM475.4 835.98L476.46 837.03L478.06 837.55L480.18 837.55L481.77 837.03L482.84 835.98L482.84 834.4L482.31 833.35L481.77 832.83L480.71 832.3L477.53 831.25L476.46 830.73L475.93 830.2L475.4 829.15L475.4 828.1L476.46 827.05L478.06 826.53L480.18 826.53L481.77 827.05L482.84 828.1"/>
<path stroke="#1a1a1a" stroke-width="0.85" fill="none" stroke-linecap="round" stroke-linejoin="round" d="M274.5 848.54L274.5 859.25M284.49 853.64L283.44 852.62L282.39 852.11L280.81 852.11L279.76 852.62L278.71 853.64L278.18 855.17L278.18 856.19L278.71 857.72L279.76 858.74L280.81 859.25L282.39 859.25L283.44 858.74L284.49 857.72M284.49 852.11L284.49 859.25M287.65 852.11L291.33 852.11M289.23 848.54L289.23 857.21L289.75 858.74L290.81 859.25L291.86 859.25M295.01 852.11L295.01 859.25M294.49 848.54L295.01 848.03L295.54 848.54L295.01 849.05ZM298.17 852.11L301.85 852.11M299.75 848.54L299.75 857.21L300.27 858.74L301.33 859.25L302.38 859.25M305.53 852.11L305.53 857.21L306.06 858.74L307.11 859.25L308.69 859.25L309.74 858.74L311.32 857.21M311.32 852.11L311.32 859.25M321.31 853.64L320.26 852.62L319.21 852.11L317.63 852.11L316.58 852.62L315.53 853.64L315 855.17L315 856.19L315.53 857.72L316.58 858.74L317.63 859.25L319.21 859.25L320.26 858.74L321.31 857.72M321.31 848.54L321.31 859.25M325 855.17L325 856.19L325.52 857.72L326.57 858.74L327.63 859.25L329.2 859.25L330.26 858.74L331.31 857.72M325 855.17L325.52 853.64L326.57 852.62L327.63 852.11L329.2 852.11L330.26 852.62L330.78 853.13L331.31 854.15L331.31 855.17Z"/>
<path stroke="#1a1a1a" stroke-width="0.85" fill="none" stroke-linecap="round" stroke-linejoin="round" d="M74.6 363.3L63.57 363.3L74.6 359L63.57 354.71L74.6 354.71M70.4 350.95L71.45 350.95L73.02 350.41L74.07 349.34L74.6 348.26L74.6 346.65L74.07 345.58L73.02 344.5M70.4 350.95L68.82 350.41L67.77 349.34L67.25 348.26L67.25 346.65L67.77 345.58L68.3 345.04L69.35 344.5L70.4 344.5ZM67.25 340.75L74.6 340.75M70.4 340.75L68.82 340.21L67.77 339.13L67.25 338.06L67.25 336.45M67.25 333.76L74.6 333.76M63.57 334.3L63.05 333.76L63.57 333.23L64.1 333.76ZM68.82 323.56L67.77 324.64L67.25 325.71L67.25 327.32L67.77 328.39L68.82 329.47L70.4 330.01L71.45 330.01L73.02 329.47L74.07 328.39L74.6 327.32L74.6 325.71L74.07 324.64L73.02 323.56M63.57 323.56L74.6 323.56M63.57 313.36L63.57 305.84M63.57 309.6L74.6 309.6M67.25 303.16L74.6 303.16M70.4 303.16L68.82 302.62L67.77 301.55L67.25 300.47L67.25 298.86M68.82 290.27L67.77 291.34L67.25 292.42L67.25 294.03L67.77 295.1L68.82 296.18L70.4 296.71L71.45 296.71L73.02 296.18L74.07 295.1L74.6 294.03L74.6 292.42L74.07 291.34L73.02 290.27M67.25 290.27L74.6 290.27M67.25 285.97L74.6 285.97M69.35 285.97L67.77 284.36L67.25 283.29L67.25 281.68L67.77 280.6L69.35 280.06L74.6 280.06M73.02 276.31L74.07 275.77L74.6 274.16L74.6 272.55L74.07 270.94L73.02 270.4L72.5 270.4L71.45 270.94L70.92 272.01L70.4 274.69L69.88 275.77L68.82 276.31L67.77 275.77L67.25 274.16L67.25 272.55L67.77 270.94L68.82 270.4M67.25 266.64L74.6 266.64M63.57 267.18L63.05 266.64L63.57 266.1L64.1 266.64ZM70.4 262.88L71.45 262.88L73.02 262.34L74.07 261.27L74.6 260.2L74.6 258.59L74.07 257.51L73.02 256.44M70.4 262.88L68.82 262.34L67.77 261.27L67.25 260.2L67.25 258.59L67.77 257.51L68.3 256.97L69.35 256.44L70.4 256.44ZM67.25 252.68L74.6 252.68M69.35 252.68L67.77 251.07L67.25 249.99L67.25 248.38L67.77 247.31L69.35 246.77L74.6 246.77M67.25 243.55L67.25 239.79M63.57 241.94L72.5 241.94L74.07 241.4L74.6 240.33L74.6 239.25M63.57 221.53L63.57 228.51L74.6 228.51L74.6 221.53M68.82 228.51L68.82 224.22M68.82 212.4L67.77 213.48L67.25 214.55L67.25 216.16L67.77 217.24L68.82 218.31L70.4 218.85L71.45 218.85L73.02 218.31L74.07 217.24L74.6 216.16L74.6 214.55L74.07 213.48L73.02 212.4M63.57 212.4L74.6 212.4M68.82 202.2L67.77 203.27L67.25 204.35L67.25 205.96L67.77 207.03L68.82 208.11L70.4 208.64L71.45 208.64L73.02 208.11L74.07 207.03L74.6 205.96L74.6 204.35L74.07 203.27L73.02 202.2M63.57 202.2L74.6 202.2M78.27 199.52L78.27 198.98L77.75 197.9L76.7 196.83L74.6 195.76M67.25 198.98L74.6 195.76M74.6 195.76L67.25 192.53M63.57 181.79L74.6 181.79M68.82 181.79L68.82 174.28M63.57 174.28L74.6 174.28M70.4 170.52L71.45 170.52L73.02 169.98L74.07 168.91L74.6 167.83L74.6 166.22L74.07 165.15L73.02 164.07M70.4 170.52L68.82 169.98L67.77 168.91L67.25 167.83L67.25 166.22L67.77 165.15L68.3 164.61L69.35 164.07L70.4 164.07ZM68.82 154.41L67.77 155.48L67.25 156.56L67.25 158.17L67.77 159.24L68.82 160.31L70.4 160.85L71.45 160.85L73.02 160.31L74.07 159.24L74.6 158.17L74.6 156.56L74.07 155.48L73.02 154.41M67.25 154.41L74.6 154.41M67.25 151.19L67.25 147.43M63.57 149.57L72.5 149.57L74.07 149.04L74.6 147.96L74.6 146.89M74.6 136.15L63.57 136.15L63.57 129.17M68.82 136.15L68.82 131.85M63.57 126.48L74.6 126.48M67.25 122.19L72.5 122.19L74.07 121.65L74.6 120.58L74.6 118.97L74.07 117.89L72.5 116.28M67.25 116.28L74.6 116.28M67.25 112.52L74.6 106.61M74.6 112.52L67.25 106.61M61.47 91.58L62.52 92.65L64.1 93.73L66.2 94.8L68.82 95.34L70.92 95.34L73.55 94.8L75.65 93.73L77.22 92.65L78.27 91.58M74.6 87.82L63.57 87.82L63.57 82.99L64.1 81.38L64.62 80.84L65.67 80.3L67.25 80.3L68.3 80.84L68.82 81.38L69.35 82.99L69.35 87.82M63.57 77.62L74.6 74.93L63.57 72.25L74.6 69.56L63.57 66.88M61.47 64.19L62.52 63.12L64.1 62.04L66.2 60.97L68.82 60.43L70.92 60.43L73.55 60.97L75.65 62.04L77.22 63.12L78.27 64.19"/>
<path stroke="#1a1a1a" stroke-width="0.85" fill="none" stroke-linecap="round" stroke-linejoin="round" d="M69.6 792.5L58.57 792.5L69.6 788.2L58.57 783.91L69.6 783.91M65.4 780.15L66.45 780.15L68.02 779.61L69.07 778.54L69.6 777.46L69.6 775.85L69.07 774.78L68.02 773.71M65.4 780.15L63.82 779.61L62.77 778.54L62.25 777.46L62.25 775.85L62.77 774.78L63.3 774.24L64.35 773.71L65.4 773.71ZM62.25 769.95L69.6 769.95M65.4 769.95L63.82 769.41L62.77 768.34L62.25 767.26L62.25 765.65M62.25 762.97L69.6 762.97M58.57 763.5L58.05 762.97L58.57 762.43L59.1 762.97ZM63.82 752.76L62.77 753.84L62.25 754.91L62.25 756.52L62.77 757.6L63.82 758.67L65.4 759.21L66.45 759.21L68.02 758.67L69.07 757.6L69.6 756.52L69.6 754.91L69.07 753.84L68.02 752.76M58.57 752.76L69.6 752.76M58.57 742.56L58.57 735.04M58.57 738.8L69.6 738.8M62.25 732.36L69.6 732.36M65.4 732.36L63.82 731.82L62.77 730.75L62.25 729.67L62.25 728.06M63.82 719.47L62.77 720.54L62.25 721.62L62.25 723.23L62.77 724.3L63.82 725.38L65.4 725.91L66.45 725.91L68.02 725.38L69.07 724.3L69.6 723.23L69.6 721.62L69.07 720.54L68.02 719.47M62.25 719.47L69.6 719.47M62.25 715.17L69.6 715.17M64.35 715.17L62.77 713.56L62.25 712.49L62.25 710.88L62.77 709.8L64.35 709.26L69.6 709.26M68.02 705.51L69.07 704.97L69.6 703.36L69.6 701.75L69.07 700.14L68.02 699.6L67.5 699.6L66.45 700.14L65.92 701.21L65.4 703.89L64.88 704.97L63.82 705.51L62.77 704.97L62.25 703.36L62.25 701.75L62.77 700.14L63.82 699.6M62.25 695.84L69.6 695.84M58.57 696.38L58.05 695.84L58.57 695.3L59.1 695.84ZM65.4 692.08L66.45 692.08L68.02 691.54L69.07 690.47L69.6 689.4L69.6 687.78L69.07 686.71L68.02 685.64M65.4 692.08L63.82 691.54L62.77 690.47L62.25 689.4L62.25 687.78L62.77 686.71L63.3 686.17L64.35 685.64L65.4 685.64ZM62.25 681.88L69.6 681.88M64.35 681.88L62.77 680.27L62.25 679.19L62.25 677.58L62.77 676.51L64.35 675.97L69.6 675.97M62.25 672.75L62.25 668.99M58.57 671.14L67.5 671.14L69.07 670.6L69.6 669.53L69.6 668.45M58.57 650.73L58.57 657.71L69.6 657.71L69.6 650.73M63.82 657.71L63.82 653.42M63.82 641.6L62.77 642.68L62.25 643.75L62.25 645.36L62.77 646.44L63.82 647.51L65.4 648.05L66.45 648.05L68.02 647.51L69.07 646.44L69.6 645.36L69.6 643.75L69.07 642.68L68.02 641.6M58.57 641.6L69.6 641.6M63.82 631.4L62.77 632.47L62.25 633.55L62.25 635.16L62.77 636.23L63.82 637.31L65.4 637.84L66.45 637.84L68.02 637.31L69.07 636.23L69.6 635.16L69.6 633.55L69.07 632.47L68.02 631.4M58.57 631.4L69.6 631.4M73.27 628.72L73.27 628.18L72.75 627.1L71.7 626.03L69.6 624.96M62.25 628.18L69.6 624.96M69.6 624.96L62.25 621.73M58.57 610.99L69.6 610.99M63.82 610.99L63.82 603.48M58.57 603.48L69.6 603.48M65.4 599.72L66.45 599.72L68.02 599.18L69.07 598.11L69.6 597.03L69.6 595.42L69.07 594.35L68.02 593.27M65.4 599.72L63.82 599.18L62.77 598.11L62.25 597.03L62.25 595.42L62.77 594.35L63.3 593.81L64.35 593.27L65.4 593.27ZM63.82 583.61L62.77 584.68L62.25 585.75L62.25 587.37L62.77 588.44L63.82 589.51L65.4 590.05L66.45 590.05L68.02 589.51L69.07 588.44L69.6 587.37L69.6 585.75L69.07 584.68L68.02 583.61M62.25 583.61L69.6 583.61M62.25 580.38L62.25 576.63M58.57 578.77L67.5 578.77L69.07 578.24L69.6 577.16L69.6 576.09M69.6 565.35L58.57 565.35L58.57 558.37M63.82 565.35L63.82 561.05M58.57 555.68L69.6 555.68M62.25 551.39L67.5 551.39L69.07 550.85L69.6 549.78L69.6 548.16L69.07 547.09L67.5 545.48M62.25 545.48L69.6 545.48M62.25 541.72L69.6 535.81M69.6 541.72L62.25 535.81M56.47 520.78L57.52 521.85L59.1 522.93L61.2 524L63.82 524.54L65.92 524.54L68.55 524L70.65 522.93L72.22 521.85L73.27 520.78M69.6 517.02L58.57 517.02L58.57 512.19L59.1 510.57L59.62 510.04L60.67 509.5L62.25 509.5L63.3 510.04L63.82 510.57L64.35 512.19L64.35 517.02M58.57 506.82L69.6 504.13L58.57 501.45L69.6 498.76L58.57 496.08M56.47 493.39L57.52 492.32L59.1 491.24L61.2 490.17L63.82 489.63L65.92 489.63L68.55 490.17L70.65 491.24L72.22 492.32L73.27 493.39"/>
<path d="M489.5 317.25H675.6V372.4H489.5Z" fill="none" stroke="#555" stroke-width="0.9"/>
<path d="M491.6 332H496.4M501.8 332H509.3M512 332H519.5M522.3 332H528.8" stroke="#f00" stroke-width="1.6"/>
<path d="M491.8 356.8H528.8" stroke="#1a1a1a" stroke-width="1.6"/>
<path stroke="#1a1a1a" stroke-width="0.85" fill="none" stroke-linecap="round" stroke-linejoin="round" d="M537.49 329.34L536.96 328.27L535.91 327.2L534.86 326.66L532.76 326.66L531.7 327.2L530.65 328.27L530.13 329.34L529.6 330.94L529.6 333.62L530.13 335.22L530.65 336.29L531.7 337.36L532.76 337.9L534.86 337.9L535.91 337.36L536.96 336.29L537.49 335.22M540.65 333.62L540.65 334.69L541.17 336.29L542.22 337.36L543.28 337.9L544.85 337.9L545.91 337.36L546.96 336.29L547.48 334.69L547.48 333.62L546.96 332.01L545.91 330.94L544.85 330.41L543.28 330.41L542.22 330.94L541.17 332.01ZM551.17 330.41L551.17 337.9M551.17 332.55L552.74 330.94L553.8 330.41L555.37 330.41L556.43 330.94L556.95 332.55L556.95 337.9M560.11 330.41L563.79 330.41M561.69 326.66L561.69 335.76L562.21 337.36L563.26 337.9L564.32 337.9M567.47 330.41L567.47 337.9M567.47 333.62L568 332.01L569.05 330.94L570.1 330.41L571.68 330.41M573.78 333.62L573.78 334.69L574.31 336.29L575.36 337.36L576.41 337.9L577.99 337.9L579.04 337.36L580.1 336.29L580.62 334.69L580.62 333.62L580.1 332.01L579.04 330.94L577.99 330.41L576.41 330.41L575.36 330.94L574.31 332.01ZM584.3 326.66L584.3 337.9M588.51 337.9L588.51 326.66L595.35 326.66M588.51 332.01L592.72 332.01M597.98 330.41L597.98 337.9M597.45 326.66L597.98 326.13L598.51 326.66L597.98 327.2ZM601.66 330.41L607.45 337.9M601.66 337.9L607.45 330.41M610.6 333.62L610.6 334.69L611.13 336.29L612.18 337.36L613.23 337.9L614.81 337.9L615.86 337.36L616.92 336.29M610.6 333.62L611.13 332.01L612.18 330.94L613.23 330.41L614.81 330.41L615.86 330.94L616.39 331.48L616.92 332.55L616.92 333.62ZM626.38 332.01L625.33 330.94L624.28 330.41L622.7 330.41L621.65 330.94L620.6 332.01L620.07 333.62L620.07 334.69L620.6 336.29L621.65 337.36L622.7 337.9L624.28 337.9L625.33 337.36L626.38 336.29M626.38 326.66L626.38 337.9M630.07 336.29L631.12 337.36L632.7 337.9L634.8 337.9L636.38 337.36L637.43 336.29L637.43 334.69L636.9 333.62L636.38 333.08L635.33 332.55L632.17 331.48L631.12 330.94L630.59 330.41L630.07 329.34L630.07 328.27L631.12 327.2L632.7 326.66L634.8 326.66L636.38 327.2L637.43 328.27M640.59 336.29L641.64 337.36L643.22 337.9L645.32 337.9L646.9 337.36L647.95 336.29L647.95 334.69L647.42 333.62L646.9 333.08L645.85 332.55L642.69 331.48L641.64 330.94L641.11 330.41L640.59 329.34L640.59 328.27L641.64 327.2L643.22 326.66L645.32 326.66L646.9 327.2L647.95 328.27M650.05 326.66L657.42 326.66M653.74 326.66L653.74 337.9"/>
<path stroke="#1a1a1a" stroke-width="0.85" fill="none" stroke-linecap="round" stroke-linejoin="round" d="M530.3 351.66L537.62 351.66M533.96 351.66L533.96 362.9M545.99 357.01L544.94 355.94L543.9 355.41L542.33 355.41L541.28 355.94L540.24 357.01L539.71 358.62L539.71 359.69L540.24 361.29L541.28 362.36L542.33 362.9L543.9 362.9L544.94 362.36L545.99 361.29M545.99 355.41L545.99 362.9M550.17 351.66L550.17 362.9M554.36 351.66L554.36 362.9M556.97 362.9L561.16 351.66L565.34 362.9M558.54 359.15L563.77 359.15M567.96 355.41L567.96 362.9M567.96 358.62L568.48 357.01L569.52 355.94L570.57 355.41L572.14 355.41M580.51 357.01L579.46 355.94L578.42 355.41L576.85 355.41L575.8 355.94L574.75 357.01L574.23 358.62L574.23 359.69L574.75 361.29L575.8 362.36L576.85 362.9L578.42 362.9L579.46 362.36L580.51 361.29M583.12 355.41L586.78 355.41M584.69 351.66L584.69 360.76L585.21 362.36L586.26 362.9L587.31 362.9M590.44 355.41L590.44 362.9M589.92 351.66L590.44 351.13L590.97 351.66L590.44 352.2ZM600.38 357.01L599.34 355.94L598.29 355.41L596.72 355.41L595.67 355.94L594.63 357.01L594.11 358.62L594.11 359.69L594.63 361.29L595.67 362.36L596.72 362.9L598.29 362.9L599.34 362.36L600.38 361.29M604.04 362.9L604.04 351.66L610.84 351.66M604.04 357.01L608.23 357.01M613.46 355.41L613.46 362.9M612.93 351.66L613.46 351.13L613.98 351.66L613.46 352.2ZM617.12 355.41L622.87 362.9M617.12 362.9L622.87 355.41M626.01 358.62L626.01 359.69L626.53 361.29L627.58 362.36L628.62 362.9L630.19 362.9L631.24 362.36L632.28 361.29M626.01 358.62L626.53 357.01L627.58 355.94L628.62 355.41L630.19 355.41L631.24 355.94L631.76 356.48L632.28 357.55L632.28 358.62ZM641.7 357.01L640.65 355.94L639.61 355.41L638.04 355.41L636.99 355.94L635.95 357.01L635.42 358.62L635.42 359.69L635.95 361.29L636.99 362.36L638.04 362.9L639.61 362.9L640.65 362.36L641.7 361.29M641.7 351.66L641.7 362.9M645.36 361.29L646.41 362.36L647.97 362.9L650.07 362.9L651.64 362.36L652.68 361.29L652.68 359.69L652.16 358.62L651.64 358.08L650.59 357.55L647.45 356.48L646.41 355.94L645.88 355.41L645.36 354.34L645.36 353.27L646.41 352.2L647.97 351.66L650.07 351.66L651.64 352.2L652.68 353.27M655.82 361.29L656.87 362.36L658.43 362.9L660.53 362.9L662.1 362.36L663.14 361.29L663.14 359.69L662.62 358.62L662.1 358.08L661.05 357.55L657.91 356.48L656.87 355.94L656.34 355.41L655.82 354.34L655.82 353.27L656.87 352.2L658.43 351.66L660.53 351.66L662.1 352.2L663.14 353.27M665.23 351.66L672.56 351.66M668.89 351.66L668.89 362.9"/>
</svg>
</body></html>
